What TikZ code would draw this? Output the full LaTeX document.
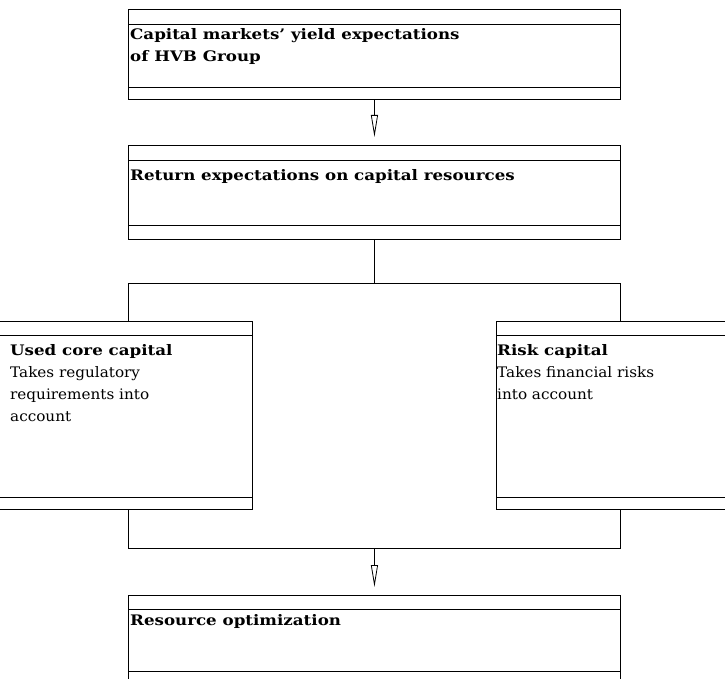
\documentclass[tikz,border=0pt]{standalone}
\usepackage{fontspec}
\setmainfont{DejaVu Serif}
\newfontfamily\headfont{DejaVu Serif Bold}[FakeStretch=1.15]
\newfontfamily\bodyfont{DejaVu Serif}[FakeStretch=1.05]
\usetikzlibrary{arrows.meta}
\begin{document}
\begin{tikzpicture}[x=1pt, y=-1pt,
  frame/.style={draw=black, line width=0.9pt, rectangle, inner sep=0pt, anchor=north west},
  band/.style={draw=black, line width=0.9pt},
  label/.style={anchor=base west, inner sep=0pt, align=left, font=\bodyfont\fontsize{14.5}{22}\selectfont},
  head/.style={anchor=base west, inner sep=0pt, align=left, font=\headfont\fontsize{14.5}{22.5}\selectfont},
  link/.style={draw=black, line width=0.8pt},
  flow/.style={link, -{Triangle[open, length=22pt, width=7pt]}, shorten >=8pt}]
\useasboundingbox (0,0) rectangle (725,679);
\fill[white] (0,0) rectangle (725,679);
\clip (0,0) rectangle (725,679);

% frames
\node[frame, minimum width=492pt, minimum height=90pt] (b1) at (128,9) {};
\node[frame, minimum width=492pt, minimum height=94pt] (b2) at (128,145) {};
\node[frame, minimum width=262pt, minimum height=188pt] (uc) at (-10,321) {};
\node[frame, minimum width=240pt, minimum height=188pt] (rc) at (496,321) {};
\node[frame, minimum width=492pt, minimum height=94pt] (b4) at (128,595) {};

% header and footer bands inside each frame
\foreach \b/\t/\f in {b1/15/12, b2/15/14, uc/14/12, rc/14/12, b4/14/18} {
  \draw[band] ([yshift=-\t pt]\b.north west) -- ([yshift=-\t pt]\b.north east);
  \draw[band] ([yshift=\f pt]\b.south west) -- ([yshift=\f pt]\b.south east);
}

% texts (base anchor sits on the last line of a multi-line label)
\node[head] (t1) at (130,62) {Capital markets’ yield expectations\\of HVB Group};
\node[head] (t2) at (130,181) {Return expectations on capital resources};
\node[head] (t3) at (10,355) {Used core capital};
\node[label] (t3b) at (10,421) {Takes regulatory\\requirements into\\account};
\node[head] (t4) at (497,355) {Risk capital};
\node[label] (t4b) at (497,399) {Takes financial risks\\into account};
\node[head] (t5) at (130,625) {Resource optimization};

% connectors
\draw[flow] (b1.south) -- (b2.north);

\coordinate (forkL) at (128,283);
\coordinate (forkR) at (620,283);
\draw[link] (b2.south) -- (b2.south |- forkL);
\draw[link] (forkL |- uc.north) -- (forkL) -- (forkR) -- (forkR |- rc.north);

\coordinate (joinL) at (128,548);
\coordinate (joinR) at (620,548);
\draw[link] (joinL |- uc.south) -- (joinL) -- (joinR) -- (joinR |- rc.south);
\draw[flow] (b4.north |- joinL) -- (b4.north);
\end{tikzpicture}
\end{document}
